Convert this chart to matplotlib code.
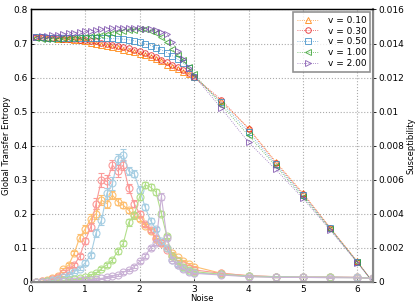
import numpy as np
import matplotlib
matplotlib.use("Agg")
import matplotlib.pyplot as plt

# noise values: sweep 0.1..3.0 then coarse points
noise = [0.1, 0.2, 0.3, 0.4, 0.5, 0.6, 0.7, 0.8, 0.9, 1.0,
         1.1, 1.2, 1.3, 1.4, 1.5, 1.6, 1.7, 1.8, 1.9, 2.0,
         2.1, 2.2, 2.3, 2.4, 2.5, 2.6, 2.7, 2.8, 2.9, 3.0,
         3.5, 4.0, 4.5, 5.0, 5.5, 6.0, 6.28]

labels = ["v = 0.10", "v = 0.30", "v = 0.50", "v = 1.00", "v = 2.00"]

# global transfer entropy (left axis)
te_010 = [0.72, 0.718, 0.716, 0.715, 0.714, 0.713, 0.712, 0.711, 0.709, 0.706,
          0.703, 0.7, 0.697, 0.694, 0.69, 0.686, 0.682, 0.678, 0.674, 0.67,
          0.665, 0.66, 0.654, 0.648, 0.638, 0.63, 0.624, 0.617, 0.61, 0.601,
          0.53, 0.452, 0.353, 0.261, 0.159, 0.06, 0.0]
te_030 = [0.72, 0.719, 0.717, 0.716, 0.715, 0.714, 0.713, 0.712, 0.711, 0.71,
          0.708, 0.706, 0.703, 0.7, 0.697, 0.694, 0.69, 0.686, 0.682, 0.677,
          0.672, 0.666, 0.66, 0.653, 0.646, 0.638, 0.63, 0.621, 0.612, 0.602,
          0.535, 0.45, 0.35, 0.258, 0.158, 0.058, 0.0]
te_050 = [0.72, 0.718, 0.717, 0.716, 0.715, 0.715, 0.715, 0.715, 0.715, 0.715,
          0.715, 0.715, 0.715, 0.715, 0.715, 0.714, 0.713, 0.711, 0.708, 0.704,
          0.699, 0.694, 0.688, 0.681, 0.673, 0.664, 0.654, 0.643, 0.628, 0.603,
          0.528, 0.44, 0.345, 0.255, 0.157, 0.058, 0.0]
te_100 = [0.716, 0.714, 0.713, 0.713, 0.714, 0.715, 0.716, 0.717, 0.718, 0.72,
          0.721, 0.723, 0.725, 0.728, 0.731, 0.734, 0.737, 0.739, 0.741, 0.742,
          0.743, 0.738, 0.73, 0.72, 0.705, 0.685, 0.666, 0.651, 0.631, 0.61,
          0.52, 0.43, 0.34, 0.25, 0.155, 0.057, 0.0]
te_200 = [0.72, 0.721, 0.722, 0.724, 0.726, 0.728, 0.73, 0.732, 0.734, 0.736,
          0.738, 0.74, 0.742, 0.744, 0.745, 0.746, 0.746, 0.746, 0.746, 0.745,
          0.744, 0.742, 0.739, 0.735, 0.728, 0.705, 0.678, 0.655, 0.628, 0.605,
          0.51, 0.41, 0.33, 0.245, 0.152, 0.056, 0.0]

# susceptibility (right axis)
sus_010 = [0.0, 0.00002, 0.00008, 0.0002, 0.00036, 0.00074, 0.001, 0.0017, 0.0026, 0.0031,
           0.0037, 0.004, 0.0048, 0.0046, 0.0051, 0.0047, 0.0045, 0.0042, 0.0039, 0.0037,
           0.0033, 0.003, 0.0025, 0.0023, 0.002, 0.0017, 0.00144, 0.00124, 0.00104, 0.0009,
           0.0005, 0.00036, 0.0003, 0.00028, 0.00028, 0.00026, 0.0002]
sus_030 = [0.0, 0.00002, 0.00006, 0.00016, 0.0003, 0.0005, 0.0007, 0.001, 0.0015, 0.0024,
           0.0032, 0.0046, 0.006, 0.0059, 0.00686, 0.0065, 0.00686, 0.0055, 0.0046, 0.004,
           0.0034, 0.00304, 0.0026, 0.00226, 0.00188, 0.0015, 0.00124, 0.001, 0.0008, 0.0007,
           0.0005, 0.00036, 0.0003, 0.00028, 0.00028, 0.00026, 0.0002]
sus_050 = [0.0, 0.00001, 0.00004, 0.00008, 0.00016, 0.00028, 0.0004, 0.0006, 0.00078, 0.00112,
           0.00156, 0.00288, 0.00362, 0.0052, 0.00578, 0.0072, 0.00744, 0.0065, 0.00636, 0.00542,
           0.0044, 0.0036, 0.0031, 0.0024, 0.002, 0.0013, 0.001, 0.0008, 0.00064, 0.00052,
           0.00044, 0.00034, 0.0003, 0.00028, 0.00028, 0.00026, 0.0002]
sus_100 = [0.0, 0.0, 0.00002, 0.00004, 0.00006, 0.00008, 0.00012, 0.00016, 0.0002, 0.00026,
           0.0004, 0.00052, 0.00078, 0.001, 0.0013, 0.0018, 0.00226, 0.0035, 0.0039, 0.005,
           0.0057, 0.00556, 0.00528, 0.004, 0.00268, 0.0015, 0.0012, 0.0009, 0.0007, 0.0006,
           0.00044, 0.00032, 0.00028, 0.00026, 0.00026, 0.00024, 0.0002]
sus_200 = [0.0, 0.0, 0.0, 0.00002, 0.00002, 0.00004, 0.00004, 0.00006, 0.00008, 0.0001,
           0.00012, 0.00016, 0.0002, 0.00026, 0.00032, 0.00042, 0.00056, 0.0007, 0.0009, 0.0012,
           0.0015, 0.002, 0.0023, 0.005, 0.0026, 0.0013, 0.00096, 0.00076, 0.0006, 0.0005,
           0.0004, 0.0003, 0.00026, 0.00026, 0.00024, 0.00024, 0.0002]

# error bars on susceptibility (sweep part only)
err_010 = [0, 0, 0, 0.00002, 0.00004, 0.00006, 0.0001, 0.00014, 0.0002, 0.00022,
           0.00026, 0.0003, 0.0003, 0.00026, 0.00024, 0.0002, 0.00018, 0.00014, 0.00012, 0.0001,
           0.0001, 0.00008, 0.00008, 0.00006, 0.00006, 0.00004, 0.00004, 0.00004, 0.00004, 0.00004]
err_030 = [0, 0, 0, 0.00002, 0.00004, 0.00006, 0.0001, 0.00012, 0.00016, 0.0002,
           0.00024, 0.0003, 0.0004, 0.00036, 0.0003, 0.00036, 0.0003, 0.00026, 0.0002, 0.00016,
           0.00014, 0.00012, 0.0001, 0.00008, 0.00008, 0.00006, 0.00006, 0.00004, 0.00004, 0.00004]
err_050 = [0, 0, 0, 0, 0.00002, 0.00004, 0.00006, 0.00008, 0.0001, 0.00014,
           0.00016, 0.00024, 0.00028, 0.00032, 0.00036, 0.0003, 0.00036, 0.00022, 0.00022, 0.0002,
           0.00018, 0.00014, 0.00012, 0.0001, 0.00008, 0.00006, 0.00006, 0.00004, 0.00004, 0.00004]
err_100 = [0, 0, 0, 0, 0, 0, 0.00002, 0.00002, 0.00004, 0.00004,
           0.00006, 0.00006, 0.00008, 0.0001, 0.00012, 0.00014, 0.00016, 0.0002, 0.0002, 0.00022,
           0.00018, 0.00016, 0.00016, 0.00014, 0.00012, 0.0001, 0.00008, 0.00006, 0.00004, 0.00004]
err_200 = [0, 0, 0, 0, 0, 0, 0, 0.00002, 0.00002, 0.00002,
           0.00004, 0.00004, 0.00004, 0.00006, 0.00006, 0.00006, 0.00008, 0.00008, 0.0001, 0.0001,
           0.00012, 0.00012, 0.00014, 0.0002, 0.00016, 0.0001, 0.00008, 0.00006, 0.00004, 0.00004]

te_all = [te_010, te_030, te_050, te_100, te_200]
sus_all = [sus_010, sus_030, sus_050, sus_100, sus_200]
err_all = [err_010, err_030, err_050, err_100, err_200]

dark = ["#ff7f00", "#e31a1c", "#3a8cc6", "#33a02c", "#7a4daa"]
light = ["#fdbf6f", "#fb9a99", "#a6cee3", "#b2df8a", "#cab2d6"]
markers = ["^", "o", "s", "<", ">"]

fig = plt.figure(figsize=(4.15, 3.06), dpi=100)
ax = fig.add_axes([0.074, 0.079, 0.824, 0.89])
ax2 = ax.twinx()

handles = []
for te, c, m, lab in zip(te_all, dark, markers, labels):
    h, = ax.plot(noise, te, linestyle=":", linewidth=0.6, color=c, marker=m,
                 markersize=4, markerfacecolor="none", markeredgewidth=0.7,
                 label=lab, zorder=3, alpha=0.8)
    handles.append(h)

for s, e, c in zip(sus_all, err_all, light):
    ax2.errorbar(noise, s, yerr=e + [0] * 7, color=c, marker="o", markersize=5,
                 markerfacecolor="none", markeredgewidth=0.8, linewidth=0.8,
                 elinewidth=0.8, capsize=2, capthick=0.8)

ax.set_xlim(0, 6.28)
ax.set_ylim(0, 0.8)
ax2.set_ylim(0, 0.016)
ax.set_xticks([0, 1, 2, 3, 4, 5, 6])
ax.set_yticks(np.arange(0, 0.81, 0.1))
ax.set_yticklabels(["0", "0.1", "0.2", "0.3", "0.4", "0.5", "0.6", "0.7", "0.8"])
ax2.set_yticks(np.arange(0, 0.0161, 0.002))
ax2.set_yticklabels(["0", "0.002", "0.004", "0.006", "0.008", "0.01",
                     "0.012", "0.014", "0.016"])

ax.grid(True, linestyle=":", color="#aaaaaa", linewidth=0.8)
ax.tick_params(labelsize=6.5, length=2.5, width=0.6, direction="in", pad=2)
ax2.tick_params(labelsize=6.5, length=2.5, width=0.6, direction="out", pad=1.5)
ax.set_xlabel("Noise", fontsize=6, labelpad=0.5)
ax.set_ylabel("Global Transfer Entropy", fontsize=6, labelpad=2)
ax2.set_ylabel("Susceptibility", fontsize=6, labelpad=2)

for sp in ["left", "top"]:
    ax2.spines[sp].set_color("black")
    ax2.spines[sp].set_linewidth(1.0)
for sp in ["right", "bottom"]:
    ax2.spines[sp].set_color("#888888")
    ax2.spines[sp].set_linewidth(1.5)

leg = ax2.legend(handles, labels, loc="upper right", fontsize=6.5, fancybox=False,
                 borderaxespad=0.3, handlelength=2.4, labelspacing=0.2,
                 handletextpad=1.0, borderpad=0.4)
leg.get_frame().set_edgecolor("#777777")
leg.get_frame().set_linewidth(1.2)

fig.savefig("out.png", dpi=100)
